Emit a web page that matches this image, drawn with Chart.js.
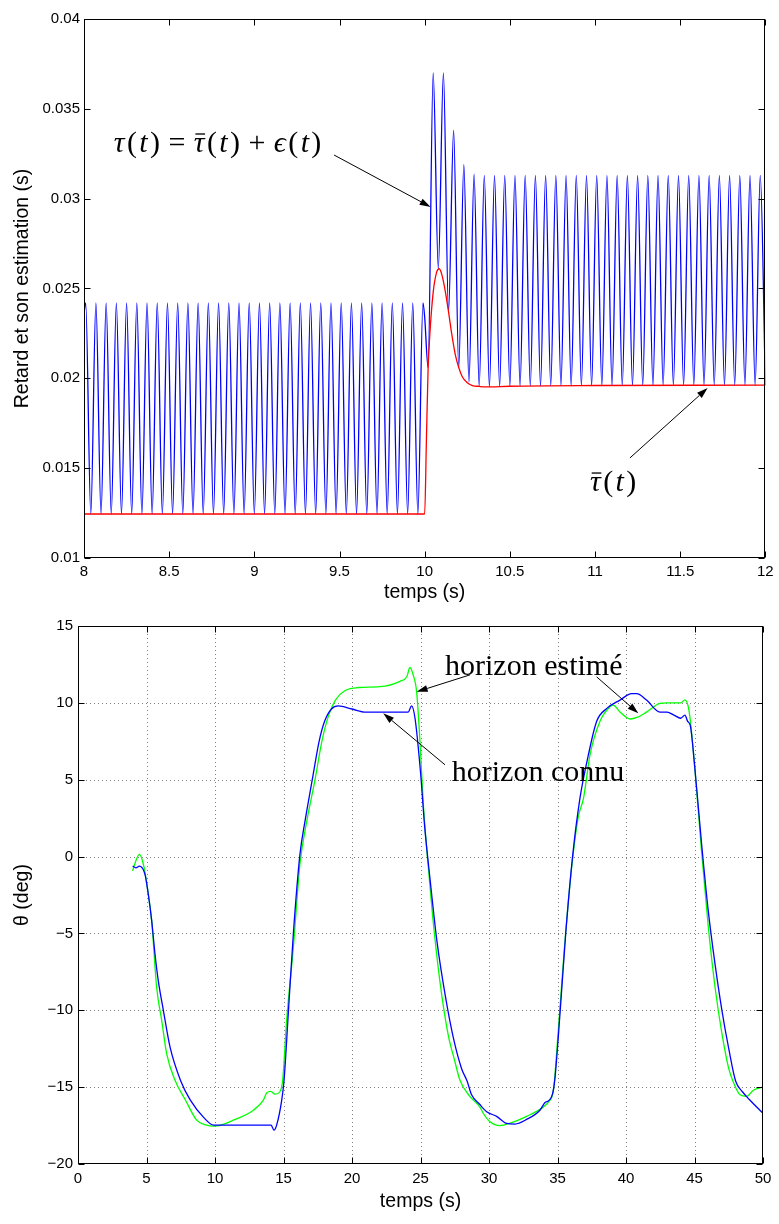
<!DOCTYPE html>
<html>
<head>
<meta charset="utf-8">
<title>Retard et horizon estimé</title>
<script src="https://cdn.jsdelivr.net/npm/chart.js@4.4.0/dist/chart.umd.min.js"></script>
<style>
  html, body { margin: 0; padding: 0; background: #fff; }
  .panel { width: 779px; height: 612px; }
  canvas { display: block; }
</style>
</head>
<body>
<div class="panel"><canvas id="delayChart" width="779" height="612"></canvas></div>
<div class="panel"><canvas id="thetaChart" width="779" height="612"></canvas></div>
<script>
// ---- top panel: delay tau(t) and its mean ----
var delayTime = [
    8.00, 8.01, 8.04, 8.07, 8.10, 8.13, 8.16, 8.19, 8.22, 8.25,
    8.28, 8.31, 8.34, 8.37, 8.40, 8.43, 8.46, 8.49, 8.52, 8.55,
    8.58, 8.61, 8.64, 8.67, 8.70, 8.73, 8.76, 8.79, 8.82, 8.85,
    8.88, 8.91, 8.94, 8.97, 9.00, 9.03, 9.06, 9.09, 9.12, 9.15,
    9.18, 9.21, 9.24, 9.27, 9.30, 9.33, 9.36, 9.39, 9.42, 9.45,
    9.48, 9.51, 9.54, 9.57, 9.60, 9.63, 9.66, 9.69, 9.72, 9.75,
    9.78, 9.81, 9.84, 9.87, 9.90, 9.93, 9.96, 9.99, 10.00, 10.02,
    10.05, 10.08, 10.11, 10.14, 10.17, 10.20, 10.23, 10.26, 10.29, 10.32,
    10.35, 10.38, 10.41, 10.44, 10.47, 10.50, 10.53, 10.56, 10.59, 10.62,
    10.65, 10.68, 10.71, 10.74, 10.77, 10.80, 10.83, 10.86, 10.89, 10.92,
    10.95, 10.98, 11.01, 11.04, 11.07, 11.10, 11.13, 11.16, 11.19, 11.22,
    11.25, 11.28, 11.31, 11.34, 11.37, 11.40, 11.43, 11.46, 11.49, 11.52,
    11.55, 11.58, 11.61, 11.64, 11.67, 11.70, 11.73, 11.76, 11.79, 11.82,
    11.85, 11.88, 11.91, 11.94, 11.97, 12.00
];
var delayValue = [
    0.0236, 0.0242, 0.01245, 0.0242, 0.01245, 0.0242, 0.01245, 0.0242, 0.01245, 0.0242,
    0.01245, 0.0242, 0.01245, 0.0242, 0.01245, 0.0242, 0.01245, 0.0242, 0.01245, 0.0242,
    0.01245, 0.0242, 0.01245, 0.0242, 0.01245, 0.0242, 0.01245, 0.0242, 0.01245, 0.0242,
    0.01245, 0.0242, 0.01245, 0.0242, 0.01245, 0.0242, 0.01245, 0.0242, 0.01245, 0.0242,
    0.01245, 0.0242, 0.01245, 0.0242, 0.01245, 0.0242, 0.01245, 0.0242, 0.01245, 0.0242,
    0.01245, 0.0242, 0.01245, 0.0242, 0.01245, 0.0242, 0.01245, 0.0242, 0.01245, 0.0242,
    0.01245, 0.0242, 0.01245, 0.0242, 0.01245, 0.0242, 0.01245, 0.0242, 0.0234, 0.0206,
    0.0370, 0.0261, 0.0370, 0.0237, 0.0338, 0.0206, 0.0319, 0.0198, 0.03136, 0.01955,
    0.0313, 0.01952, 0.0313, 0.01954, 0.0313, 0.01956, 0.0313, 0.01956, 0.0313, 0.01957,
    0.0313, 0.01957, 0.0313, 0.01958, 0.0313, 0.01958, 0.0313, 0.01958, 0.0313, 0.01959,
    0.0313, 0.01959, 0.0313, 0.01959, 0.0313, 0.0196, 0.0313, 0.0196, 0.0313, 0.0196,
    0.0313, 0.0196, 0.0313, 0.0196, 0.0313, 0.01961, 0.0313, 0.01961, 0.0313, 0.01961,
    0.0313, 0.01961, 0.0313, 0.01961, 0.0313, 0.01962, 0.0313, 0.01962, 0.0313, 0.01962,
    0.0313, 0.01962, 0.0313, 0.01962, 0.0313, 0.01962
];
var meanTime = [8.0, 10.0, 10.01, 10.02, 10.03, 10.05, 10.07, 10.085, 10.10, 10.12, 10.14,
    10.16, 10.18, 10.20, 10.22, 10.25, 10.28, 10.32, 10.36, 10.5, 11.0, 12.0];
var meanValue = [0.01245, 0.01245, 0.0165, 0.0205, 0.0224, 0.0248, 0.0259, 0.0261, 0.0258, 0.0249, 0.0237,
    0.0224, 0.0213, 0.0206, 0.0201, 0.01975, 0.0196, 0.01955, 0.01952, 0.01956, 0.0196, 0.01962];
var delayXTicks = [8, 8.5, 9, 9.5, 10, 10.5, 11, 11.5, 12];
var delayYTicks = [0.01, 0.015, 0.02, 0.025, 0.03, 0.035, 0.04];

// ---- bottom panel: theta with known / estimated horizon ----
var knownTime = [3.99, 4.23, 4.48, 4.89, 5.13, 5.38, 5.62, 5.86, 6.23, 6.72,
    7.5, 8.2, 9.2, 9.9, 10.5, 12.0, 14.1, 14.3, 14.5, 14.87,
    15.04, 15.35, 15.72, 16.2, 16.57, 17.1, 17.6, 18.0, 18.5, 19.0,
    20.0, 21.0, 24.1, 24.35, 24.6, 25.0, 25.3, 25.7, 26.2, 26.8,
    27.4, 28.0, 28.4, 28.73, 29.3, 29.83, 30.56, 31.29, 31.9, 32.75,
    33.72, 34.09, 34.4, 34.65, 34.8, 35.2, 35.6, 36.1, 36.64, 37.25,
    37.86, 38.6, 39.56, 40.41, 40.78, 41.5, 42.48, 43.0, 43.5, 44.0,
    44.3, 44.5, 44.7, 45.0, 45.5, 46.0, 46.5, 47.0, 47.5, 48.0,
    48.5, 49.0, 50.0];
var knownTheta = [-0.62, -0.73, -0.62, -1.16, -2.45, -4.18, -6.34, -8.07, -10.0, -12.4,
    -14.6, -15.85, -17.0, -17.47, -17.47, -17.47, -17.47, -17.8, -17.47, -15.85,
    -14.55, -10.2, -5.0, 0.14, 2.3, 5.0, 7.5, 8.8, 9.6, 9.8,
    9.6, 9.4, 9.4, 9.8, 9.0, 5.5, 2.0, -1.5, -5.5, -9.0,
    -11.8, -13.8, -14.6, -15.5, -16.1, -16.6, -16.9, -17.36, -17.4, -17.1,
    -16.5, -16.0, -15.85, -15.4, -14.55, -10.0, -5.0, 0.0, 3.8, 6.6,
    8.8, 9.64, 10.18, 10.6, 10.6, 10.18, 9.4, 9.4, 9.2, 9.0,
    9.2, 8.8, 8.5, 6.0, 1.0, -3.5, -7.0, -10.0, -12.5, -14.6,
    -15.3, -15.8, -16.7];
var estTime = [3.99, 4.1, 4.48, 4.77, 5.06, 5.38, 5.74, 6.11, 6.47, 7.08,
    7.85, 8.66, 9.39, 9.88, 10.3, 11.34, 12.8, 13.53, 13.77, 14.06,
    14.38, 14.74, 14.94, 15.23, 15.72, 16.2, 16.7, 17.3, 17.8, 18.3,
    18.8, 19.5, 20.5, 22.04, 23.5, 24.0, 24.23, 24.47, 24.72, 24.96,
    25.2, 25.5, 25.9, 26.4, 27.0, 27.5, 27.88, 28.6, 29.34, 29.58,
    30.07, 30.8, 31.5, 32.75, 33.96, 34.3, 34.7, 35.0, 35.5, 36.0,
    36.5, 36.9, 37.37, 38.1, 38.83, 39.07, 39.56, 40.3, 40.8, 41.5,
    42.48, 43.0, 44.0, 44.3, 44.6, 45.0, 45.5, 46.0, 46.5, 47.0,
    47.5, 47.83, 48.32, 48.8, 49.3, 50.0];
var estTheta = [-0.94, -0.6, 0.14, -0.5, -2.0, -4.18, -8.5, -10.66, -12.82, -14.55,
    -15.85, -17.15, -17.47, -17.53, -17.5, -17.15, -16.5, -15.85, -15.37, -15.27,
    -15.46, -15.3, -14.55, -10.66, -5.9, -0.5, 2.3, 5.0, 7.5, 9.2,
    10.2, 10.8, 11.0, 11.05, 11.4, 11.7, 12.3, 11.8, 10.7, 7.5,
    3.5, 0.0, -4.0, -8.0, -11.5, -13.3, -14.55, -15.6, -16.3, -16.7,
    -17.25, -17.5, -17.36, -16.9, -16.3, -16.0, -15.2, -12.0, -6.0, -1.0,
    2.5, 3.8, 6.6, 8.8, 9.75, 9.85, 9.4, 8.95, 9.05, 9.4,
    9.96, 10.0, 10.0, 10.2, 9.5, 6.0, 0.5, -4.5, -8.5, -11.5,
    -13.8, -14.66, -15.5, -15.6, -15.2, -15.0];
var thetaXTicks = [0, 5, 10, 15, 20, 25, 30, 35, 40, 45, 50];
var thetaYTicks = [-20, -15, -10, -5, 0, 5, 10, 15];

var axisFont = "'Liberation Sans', Arial, Helvetica, sans-serif";
var mathFont = "'Liberation Serif', 'DejaVu Serif', serif";

function points(xs, ys) {
    return xs.map(function (x, i) { return { x: x, y: ys[i] }; });
}

function fixedTicks(list) {
    return function (scale) {
        scale.ticks = list.map(function (v) { return { value: v }; });
    };
}

function tickLabel(v) {
    return String(v).replace('-', '\u2212');
}

// box round the plot, inward ticks, optional dotted grid (matlab look)
var framePlugin = {
    id: 'frame',
    beforeDatasetsDraw: function (chart, args, opts) {
        if (!opts.grid) return;
        var a = chart.chartArea, ctx = chart.ctx;
        var sx = chart.scales.x, sy = chart.scales.y;
        ctx.save();
        ctx.strokeStyle = 'rgba(0,0,0,0.5)';
        ctx.lineWidth = 1;
        ctx.setLineDash([1, 3]);
        sx.ticks.forEach(function (t) {
            var p = Math.round(sx.getPixelForValue(t.value)) + 0.5;
            if (p < a.left + 2 || p > a.right - 2) return;
            ctx.beginPath(); ctx.moveTo(p, a.top); ctx.lineTo(p, a.bottom); ctx.stroke();
        });
        sy.ticks.forEach(function (t) {
            var p = Math.round(sy.getPixelForValue(t.value)) + 0.5;
            if (p < a.top + 2 || p > a.bottom - 2) return;
            ctx.beginPath(); ctx.moveTo(a.left, p); ctx.lineTo(a.right, p); ctx.stroke();
        });
        ctx.restore();
    },
    afterDraw: function (chart) {
        var a = chart.chartArea, ctx = chart.ctx;
        var sx = chart.scales.x, sy = chart.scales.y;
        var l = Math.round(a.left) + 0.5, r = Math.round(a.right) - 0.5;
        var t = Math.round(a.top) + 0.5, b = Math.round(a.bottom) - 0.5;
        var len = 6;
        ctx.save();
        ctx.strokeStyle = '#000';
        ctx.lineWidth = 1;
        ctx.strokeRect(l, t, r - l, b - t);
        ctx.beginPath();
        sx.ticks.forEach(function (tk) {
            var p = Math.round(sx.getPixelForValue(tk.value)) + 0.5;
            ctx.moveTo(p, b); ctx.lineTo(p, b - len);
            ctx.moveTo(p, t); ctx.lineTo(p, t + len);
        });
        sy.ticks.forEach(function (tk) {
            var p = Math.round(sy.getPixelForValue(tk.value)) + 0.5;
            ctx.moveTo(l, p); ctx.lineTo(l + len, p);
            ctx.moveTo(r, p); ctx.lineTo(r - len, p);
        });
        ctx.stroke();
        ctx.restore();
    }
};

function drawArrow(ctx, x1, y1, x2, y2) {
    var ang = Math.atan2(y2 - y1, x2 - x1), len = 11, half = 3.5;
    var bx = x2 - len * Math.cos(ang), by = y2 - len * Math.sin(ang);
    ctx.beginPath(); ctx.moveTo(x1, y1); ctx.lineTo(bx, by); ctx.stroke();
    ctx.beginPath();
    ctx.moveTo(x2, y2);
    ctx.lineTo(bx + half * Math.sin(ang), by - half * Math.cos(ang));
    ctx.lineTo(bx - half * Math.sin(ang), by + half * Math.cos(ang));
    ctx.closePath();
    ctx.fill();
}

// runs: [text, style, pad]; style 'r' roman, 'i' italic, 'bar' italic with a bar on top
function drawRuns(ctx, runs, x, y, size, gap) {
    runs.forEach(function (run, k) {
        var style = run[1], pad = run[2] || 0;
        ctx.font = (style === 'r' ? '' : 'italic ') + size + 'px ' + mathFont;
        if (k > 0) x += gap * size;
        x += pad * size;
        ctx.fillText(run[0], x, y);
        var w = ctx.measureText(run[0]).width;
        if (style === 'bar') ctx.fillRect(x + 0.15 * w, y - 0.62 * size, 0.9 * w, 1.3);
        x += w + pad * size;
    });
}

var notesPlugin = {
    id: 'notes',
    afterDatasetsDraw: function (chart, args, opts) {
        var sx = chart.scales.x, sy = chart.scales.y, ctx = chart.ctx;
        ctx.save();
        ctx.fillStyle = '#000';
        ctx.strokeStyle = '#000';
        ctx.lineWidth = 1;
        ctx.textAlign = 'left';
        ctx.textBaseline = 'alphabetic';
        (opts.labels || []).forEach(function (lb) {
            drawRuns(ctx, lb.runs, sx.getPixelForValue(lb.at[0]), sy.getPixelForValue(lb.at[1]), opts.size, opts.gap || 0);
        });
        (opts.arrows || []).forEach(function (ar) {
            drawArrow(ctx, sx.getPixelForValue(ar.from[0]), sy.getPixelForValue(ar.from[1]),
                sx.getPixelForValue(ar.to[0]), sy.getPixelForValue(ar.to[1]));
        });
        ctx.restore();
    }
};

function axis(min, max, ticks, fit, title, titlePad, tickPad) {
    return {
        type: 'linear', min: min, max: max,
        afterBuildTicks: fixedTicks(ticks),
        afterFit: fit,
        grid: { display: false, drawTicks: false },
        border: { display: false },
        ticks: {
            color: '#000', padding: tickPad, maxRotation: 0, autoSkip: false,
            font: { family: axisFont, size: 15 },
            callback: tickLabel
        },
        title: {
            display: true, text: title, color: '#000',
            font: { family: axisFont, size: 19.5, lineHeight: 1.2 },
            padding: titlePad
        }
    };
}

document.addEventListener("DOMContentLoaded", function () {
    // Retard chart
    new Chart(document.getElementById('delayChart'), {
        type: 'line',
        data: {
            datasets: [
                {
                    label: 'tau moyen',
                    data: points(meanTime, meanValue),
                    borderColor: '#ff0000',
                    borderWidth: 1.3,
                    cubicInterpolationMode: 'monotone',
                    pointRadius: 0
                },
                {
                    label: 'tau',
                    data: points(delayTime, delayValue),
                    borderColor: '#0000ff',
                    borderWidth: 1.3,
                    cubicInterpolationMode: 'monotone',
                    pointRadius: 0
                }
            ]
        },
        options: {
            responsive: false,
            animation: false,
            layout: { padding: { top: 19, right: 11, left: 0, bottom: 0 } },
            scales: {
                x: axis(8, 12, delayXTicks, function (s) { s.height = 54; }, 'temps (s)', { top: 0, bottom: 7.5 }, 5.3),
                y: axis(0.01, 0.04, delayYTicks, function (s) { s.width = 84; }, 'Retard et son estimation (s)', { top: 11, bottom: 0 }, 4)
            },
            plugins: {
                legend: { display: false },
                tooltip: { enabled: false },
                frame: { grid: false },
                notes: {
                    size: 30,
                    gap: 0.08,
                    labels: [
                        { runs: [['τ', 'i'], ['(', 'r'], ['t', 'i'], [')', 'r'], ['=', 'r', 0.2], ['τ', 'bar'], ['(', 'r'], ['t', 'i'], [')', 'r'],
                                 ['+', 'r', 0.2], ['ϵ', 'i'], ['(', 'r'], ['t', 'i'], [')', 'r']], at: [8.175, 0.0326] },
                        { runs: [['τ', 'bar'], ['(', 'r'], ['t', 'i'], [')', 'r']], at: [10.971, 0.01373] }
                    ],
                    arrows: [
                        { from: [9.468, 0.03243], to: [10.035, 0.02954] },
                        { from: [11.205, 0.01557], to: [11.661, 0.01946] }
                    ]
                }
            }
        },
        plugins: [framePlugin, notesPlugin]
    });

    // Theta chart
    new Chart(document.getElementById('thetaChart'), {
        type: 'line',
        data: {
            datasets: [
                {
                    label: 'horizon connu',
                    data: points(knownTime, knownTheta),
                    borderColor: '#0000ff',
                    borderWidth: 1.3,
                    cubicInterpolationMode: 'monotone',
                    pointRadius: 0
                },
                {
                    label: 'horizon estimé',
                    data: points(estTime, estTheta),
                    borderColor: '#00ff00',
                    borderWidth: 1.3,
                    cubicInterpolationMode: 'monotone',
                    pointRadius: 0
                }
            ]
        },
        options: {
            responsive: false,
            animation: false,
            layout: { padding: { top: 12, right: 16, left: 0, bottom: 0 } },
            scales: {
                x: axis(0, 50, thetaXTicks, function (s) { s.height = 60; }, 'temps (s)', { top: 0, bottom: 10.5 }, 6.2),
                y: axis(-20, 15, thetaYTicks, function (s) { s.width = 78; }, 'θ (deg)', { top: 11, bottom: 0 }, 5)
            },
            plugins: {
                legend: { display: false },
                tooltip: { enabled: false },
                frame: { grid: true },
                notes: {
                    size: 30,
                    labels: [
                        { runs: [['horizon estimé', 'r']], at: [26.79, 11.82] },
                        { runs: [['horizon connu', 'r']], at: [27.28, 4.89] }
                    ],
                    arrows: [
                        { from: [28.61, 11.82], to: [24.72, 10.72] },
                        { from: [37.86, 11.69], to: [40.9, 9.32] },
                        { from: [26.79, 5.97], to: [22.28, 9.32] }
                    ]
                }
            }
        },
        plugins: [framePlugin, notesPlugin]
    });
});
</script>
</body>
</html>
